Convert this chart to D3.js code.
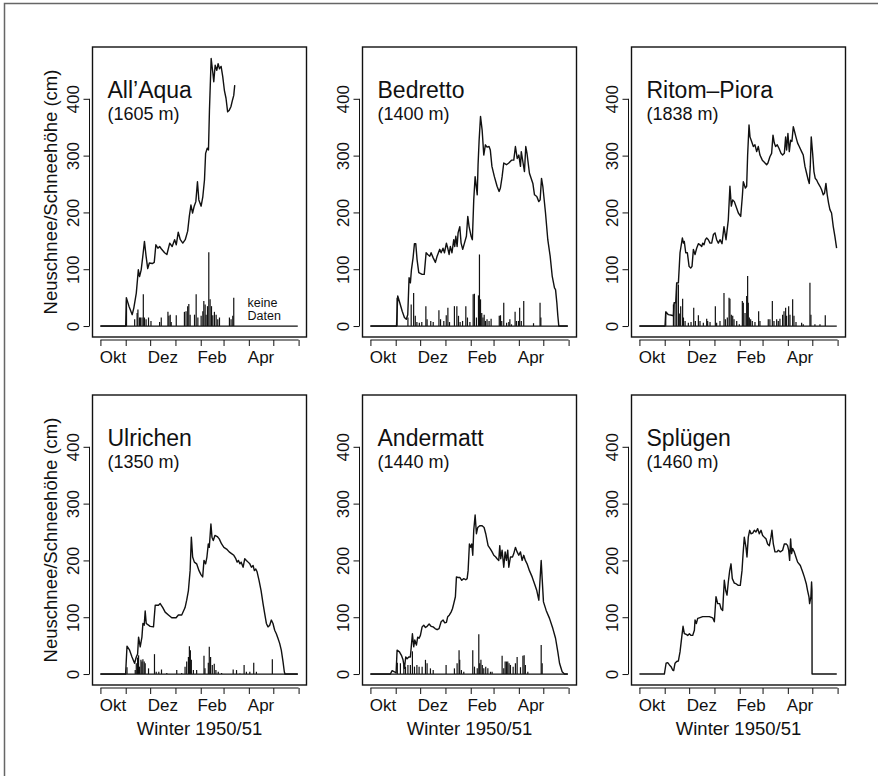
<!DOCTYPE html>
<html>
<head>
<meta charset="utf-8">
<script src="https://cdn.jsdelivr.net/npm/d3@7"></script>
<style>
  body { margin: 0; background: #fff; }
  text { font-family: "Liberation Sans", Arial, Helvetica, sans-serif; fill: #111; }
</style>
</head>
<body>
<div id="chart"></div>
<script>
// Winter 1950/51, day 0 = 1 Oct 1950. Pairs are [day, cm].
const stationNames = ["All\u2019Aqua", "Bedretto", "Ritom\u2013Piora", "Ulrichen", "Andermatt", "Spl\u00fcgen"];
const stationHeights = ["(1605 m)", "(1400 m)", "(1838 m)", "(1350 m)", "(1440 m)", "(1460 m)"];

const monthTicks = [0, 31, 61, 92, 123, 151, 182, 212, 243];
const monthLabels = ["Okt", "Dez", "Feb", "Apr"];
const monthLabelDays = [15.5, 76.5, 137, 197];
const yTicks = [0, 100, 200, 300, 400];

// Schneehöhe (snow depth)
const allAquaDepth = [[0,0],[31,0],[31.8,50],[35,35],[39,20],[41,32],[44,58],[46.5,99],[48,87],[50,99],[52,123],[54,149],[56,123],[58,101],[60,111],[63.6,110],[66,112],[68,143],[70.5,137],[72.6,140],[74.6,136],[78.7,129],[81.5,126],[85,146],[88,140],[91,152],[93,143],[95.4,165],[98,152],[101,146],[104,152],[107,167],[109,193],[111,213],[113,199],[115,211],[117,219],[119,254],[120.7,222],[123.5,211],[125.6,228],[127.6,257],[129,304],[131,313],[132.5,310],[133.7,380],[135.8,471],[138,444],[139,430],[140.7,459],[142.7,450],[144.3,462],[146,453],[148,457],[150,439],[152,415],[154,401],[156,377],[158,380],[160,386],[162,398],[163.5,406],[164.7,424]];
const bedrettoDepth = [[0,0],[32,0],[33.5,53],[36,41],[39,26],[41.7,15],[44,12],[45.8,20],[47.4,85],[49,76],[50.3,99],[52.3,120],[54,145],[55.6,145],[57.2,117],[59.3,94],[63.4,91],[66,91],[68.3,129],[70.3,126],[72.8,123],[74.4,129],[77,120],[79.7,112],[81.8,123],[85,135],[86.7,129],[89,137],[90.8,129],[93.2,146],[94.8,137],[96.5,126],[98,140],[100,129],[102.2,152],[103.4,140],[104.7,158],[106.3,140],[107.5,164],[109.6,175],[111.2,146],[113.2,135],[115.3,146],[117.7,158],[119.4,193],[121,175],[123.5,158],[125,152],[126.7,222],[128.4,263],[131,231],[132,284],[133.3,327],[135,369],[137,345],[139,301],[141,319],[143,315],[145.5,316],[147,310],[149,281],[152,263],[155.3,246],[157.8,237],[159.4,243],[161.5,263],[163.5,287],[166.8,284],[169.7,287],[173,292],[175.8,292],[177.8,316],[180,295],[182,301],[184,281],[185,307],[187.2,287],[188.9,272],[190.5,316],[192,304],[195,269],[199.2,251],[201.2,231],[204,228],[206.5,219],[208.1,222],[209.8,260],[211.4,246],[214.7,199],[217.5,152],[220.4,123],[222.9,88],[225.7,67],[227,64],[228.6,41],[229.8,18],[231,0],[242,0]];
const ritomDepth = [[0,0],[31.4,0],[32.3,25],[35.5,20],[39.6,19],[41.7,18],[42.5,41],[44.5,41],[45.7,76],[47.8,76],[49.8,129],[52.7,155],[54,146],[55,149],[56.8,129],[58.8,129],[60.9,105],[62.9,102],[64.5,105],[66.2,135],[68.2,126],[70.2,137],[72.3,145],[74.3,143],[76.4,140],[77.6,146],[79.2,143],[80.9,152],[82.5,155],[84.5,152],[86.6,146],[88.6,146],[90.7,161],[92.7,164],[94.7,152],[96.8,146],[98.8,152],[101.3,145],[103.7,175],[106.2,152],[109,187],[111,246],[112.7,211],[114.4,222],[116.4,219],[118.4,211],[121.3,199],[124.2,193],[126.2,228],[127.4,254],[129.9,243],[131.5,246],[132.7,301],[134.4,354],[135.6,333],[137.6,325],[139.7,316],[141.7,319],[143.8,307],[145.8,316],[147.8,301],[150.7,292],[154,287],[156,284],[157.6,287],[160,298],[162.1,304],[163.8,336],[165.4,322],[167,316],[169,319],[171.1,313],[173.6,304],[175.6,301],[177.7,304],[179.3,333],[180.5,310],[182.1,339],[183.8,307],[185.4,327],[187,325],[188.7,351],[190.3,342],[191.9,333],[194,322],[196,316],[198.9,307],[200.9,301],[203,281],[205,269],[207,257],[208.3,251],[209.5,281],[210.7,333],[212.4,304],[214,272],[215.6,260],[217.3,257],[219.3,251],[221.4,246],[223.4,240],[225.4,231],[227,234],[228.7,251],[230.3,231],[232,216],[233.6,205],[235.6,199],[237.7,175],[239.7,158],[241.8,137]];
const ulrichenDepth = [[0,0],[30.9,0],[32.6,49],[35.8,42],[38.7,30],[41.9,19],[44,30],[45.6,35],[46.8,65],[48.8,48],[50.9,65],[52.1,89],[53.7,86],[54.9,111],[56.2,89],[59,86],[61,84],[65.1,83],[67.2,121],[71.2,121],[73.3,124],[76.5,117],[79.4,109],[83.4,104],[87.5,99],[92.8,99],[95.6,104],[99.7,104],[103.8,117],[105.8,130],[107.9,147],[110,182],[111.5,241],[113.1,206],[115.2,197],[118,194],[120.9,182],[123.3,175],[125.4,171],[127,200],[129,194],[130.6,206],[132.3,229],[133.5,223],[135.5,264],[136.8,241],[138.4,235],[140.4,244],[143.3,242],[145.7,238],[148.6,229],[151.4,223],[154.7,220],[157.9,215],[160.8,212],[163.6,209],[166,203],[167.7,197],[169.3,200],[171,194],[172.6,197],[175,188],[177,203],[179,200],[181.1,197],[183.2,194],[185.2,188],[187.2,191],[188.8,182],[190.5,185],[192.1,180],[194.5,165],[197,147],[199.4,124],[201.5,106],[203.5,89],[205.5,83],[207.6,86],[209.6,95],[211.6,89],[213.7,77],[215.7,71],[217.7,63],[219.8,54],[221.8,42],[223.9,22],[225.5,4],[226.3,0],[242,0]];
const andermattDepth = [[0,0],[24.5,0],[26.6,6],[29.4,4],[31.5,2],[32.7,42],[35.6,39],[38,33],[40,25],[41.7,10],[43.3,30],[45,27],[47,30],[49,30],[51.5,71],[53.1,48],[54.4,60],[56.4,51],[58,65],[59.7,63],[61.3,68],[63.4,83],[65.4,86],[67.5,82],[69.5,84],[72,88],[74.4,84],[76.9,83],[79.3,80],[81.8,78],[84.2,80],[86.7,92],[89.1,95],[91.2,90],[93.2,91],[94.8,101],[96.9,104],[98.9,109],[100.6,115],[102.2,124],[104.2,136],[105.5,171],[107.1,170],[109.6,170],[112,165],[114.5,168],[116.9,166],[118.6,168],[119.8,182],[121.4,229],[123,223],[124.3,229],[125.5,209],[126.7,253],[128.4,280],[130,247],[131.6,258],[134.1,261],[137,261],[139.4,258],[141.4,247],[144.3,226],[147.2,220],[149.2,215],[151.3,209],[153.7,206],[155.3,203],[157.4,200],[158.6,226],[159.8,203],[161.5,218],[163.5,188],[165.2,215],[166.8,200],[168.4,218],[169.7,188],[171.7,206],[174.2,206],[175.8,212],[177.8,223],[179.9,215],[181.9,209],[184,215],[186,200],[188,209],[190,200],[192.1,194],[195,182],[198.3,171],[201.2,159],[204,147],[206.5,130],[209.4,200],[210.6,168],[212.2,127],[215.5,112],[219.6,98],[223.7,80],[227,63],[229.8,39],[231.9,19],[235.1,4],[238,0],[242,0]];
const spluegenDepth = [[0,0],[30.6,0],[32.7,19],[34.7,20],[36.8,16],[38.8,13],[40.8,7],[42,6],[43.7,19],[45.7,22],[47.8,23],[49.8,39],[51.9,65],[53.5,84],[55.1,71],[57.2,70],[59.2,68],[61.3,71],[63.3,68],[65.3,68],[67.4,77],[68.2,95],[69.8,89],[71.5,98],[73.5,99],[77.6,101],[81.7,101],[85.8,101],[89.8,99],[91.9,92],[93.9,136],[96,124],[98.4,124],[100.1,115],[102.1,112],[104.1,165],[105.8,147],[107.4,139],[109,162],[110.7,182],[112.3,194],[113.9,168],[116.4,160],[118.4,159],[121.3,156],[123.7,156],[125.8,182],[127,209],[128.6,241],[130.7,223],[131.9,206],[133.5,241],[135.2,253],[136.8,247],[138.9,248],[140.9,253],[142.9,250],[145,256],[147,247],[149.1,253],[151.1,244],[153.1,241],[155.2,238],[157.2,229],[159.3,226],[161.3,241],[162.5,253],[164.2,229],[166.2,215],[168.7,215],[170.3,218],[172.8,215],[175.6,218],[177.7,229],[180.1,229],[181.7,226],[183,218],[184.2,200],[185.4,238],[186.6,212],[187.9,221],[189.9,215],[191.9,206],[194,197],[197.3,191],[200.1,180],[202.2,171],[204.6,159],[206.2,147],[207.9,136],[208.7,124],[210.3,136],[211.1,162],[211.6,147],[211.7,0],[242,0]];

// Neuschnee (daily new snow)
const allAquaNew = [[32,45],[42,12],[45,23],[46,29],[48,15],[49,15],[51,15],[52.6,56],[54,15],[56,12],[59,15],[62,9],[72.6,7],[74.6,15],[82.8,25],[84,18],[85.6,20],[86.8,7],[93,19],[103,25],[105,26],[107,35],[108.4,39],[110,20],[115.4,20],[117.4,56],[119.5,15],[123.5,18],[125.6,26],[126.8,44],[128.4,38],[129.6,20],[131.3,35],[132.9,130],[134.5,47],[136.2,35],[137.8,19],[139.8,25],[141.9,20],[143.9,12],[146,15],[158.2,15],[160.2,12],[162.3,18],[163.5,50]];
const bedrettoNew = [[32.7,50],[46,15],[50,38],[53,58],[55,18],[57,7],[60,6],[63,7],[68,35],[69.5,12],[74,9],[77,7],[84,28],[86,12],[90,9],[93,19],[95,32],[97,7],[103,35],[106,35],[108,18],[110,7],[113,9],[117,35],[119,15],[122,7],[126,56],[127.5,57],[130,15],[132.5,54],[133.7,126],[135,47],[136.5,23],[138,15],[139.5,20],[141,9],[143,12],[145.5,9],[148,13],[158,18],[159.5,19],[161,9],[163.5,41],[167,6],[169.7,7],[171,12],[173,3],[177.4,25],[179,9],[181.5,9],[183,32],[185,9],[188,44],[200,5],[208,41],[209,15]];
const ritomNew = [[32.3,25],[41.7,38],[43.7,41],[45.7,76],[47.8,73],[49.4,22],[50.6,35],[53,48],[54,15],[56,9],[60,6],[63.3,7],[66.6,32],[68.6,9],[72.3,19],[74.3,9],[78.4,6],[82.5,13],[83.7,9],[86.6,7],[93.1,35],[94.7,6],[98.8,9],[103.7,58],[105.4,12],[107.8,15],[109.9,50],[111,48],[112.7,20],[114.4,18],[116,12],[119.3,9],[122.5,3],[126.2,44],[127.4,41],[129.5,23],[131.5,53],[132.7,88],[133.5,41],[134.8,15],[136.4,12],[138.4,9],[141.7,7],[146.2,26],[147.8,9],[158,12],[160,12],[163,44],[165,9],[168.3,12],[170.3,9],[172.3,13],[175.6,20],[177.3,26],[179.3,32],[180.5,18],[183,35],[184.6,20],[187.9,47],[189.5,18],[192,7],[198.9,6],[200.9,3],[209.1,76],[210.3,20],[215.2,3],[221.4,3],[227.9,19]];
const ulrichenNew = [[32.6,12],[42.7,7],[44,19],[45.6,29],[46.8,33],[48,13],[49.7,25],[50.9,22],[52.1,26],[53.7,22],[54.9,19],[59,10],[66.3,35],[68.4,4],[71.6,4],[74.9,8],[81.4,2],[93.6,7],[99.7,2],[103.8,13],[105.8,22],[107.9,30],[109.1,49],[110.3,42],[111.5,25],[114,7],[118,7],[127,32],[128.2,10],[132.3,20],[133.5,48],[135.1,30],[137.2,16],[139.6,18],[141.6,7],[144.5,4],[148.6,2],[162.8,8],[166.9,7],[171,1],[176.2,16],[179,4],[183.2,4],[188,20],[191.3,4],[210.8,26]];
const andermattNew = [[33,20],[36.8,19],[41,16],[43,13],[46,16],[49,16],[51.5,40],[54,13],[57,16],[59.7,13],[63.4,13],[67.5,25],[69.5,19],[73.6,10],[77,7],[92.8,16],[103,10],[106.3,19],[108.7,42],[109.5,25],[111.6,7],[114.5,4],[125.5,42],[127.6,13],[131,10],[132.9,70],[134,19],[135.5,25],[137.2,16],[139,10],[141.4,13],[144,10],[147.2,4],[149.2,4],[161.5,32],[163.5,10],[165.2,22],[166.8,22],[168.4,22],[170,19],[171.7,16],[175,13],[177.8,19],[179.9,30],[184,12],[187,32],[188.5,33],[190,16],[193,4],[209.4,51],[210.6,19]];

const depthSeries = [allAquaDepth, bedrettoDepth, ritomDepth, ulrichenDepth, andermattDepth, spluegenDepth];
const newSnowSeries = [allAquaNew, bedrettoNew, ritomNew, ulrichenNew, andermattNew, null];

// layout
const colLeft = [92.5, 362.5, 631.5];
const rowTop = [47, 395];
const boxW = 214, boxH = 290;
const ink = "#111";

var svg = d3.select("#chart")
  .append("svg")
  .attr("width", 878)
  .attr("height", 776);

svg.append("rect").attr("width", 878).attr("height", 776).attr("fill", "#fff");

// scan frame (top and left edges only)
svg.append("path")
  .attr("d", "M4.5,776 L4.5,3.5 L878,3.5")
  .attr("fill", "none")
  .attr("stroke", "#666")
  .attr("stroke-width", 1.5);

const x = d3.scaleLinear().domain([-9.7, 252.7]).range([0, boxW]);
const y = d3.scaleLinear().domain([-19.3, 491.2]).range([boxH, 0]);

stationNames.forEach(function(name, i) {
  var col = i % 3, row = Math.floor(i / 3);
  var g = svg.append("g")
    .attr("transform", "translate(" + colLeft[col] + "," + rowTop[row] + ")");

  // new snow: zero line and daily bars
  var fresh = newSnowSeries[i];
  if (fresh) {
    g.append("line")
      .attr("x1", x(0)).attr("x2", x(242))
      .attr("y1", y(0)).attr("y2", y(0))
      .attr("stroke", ink).attr("stroke-width", 1.3);
    g.selectAll(".bar")
      .data(fresh)
      .join("line")
      .attr("class", "bar")
      .attr("x1", d => x(d[0])).attr("x2", d => x(d[0]))
      .attr("y1", y(0)).attr("y2", d => y(d[1]))
      .attr("stroke", ink).attr("stroke-width", 1.2);
  }

  // snow depth curve
  g.append("path")
    .datum(depthSeries[i])
    .attr("d", d3.line().x(d => x(d[0])).y(d => y(d[1])))
    .attr("fill", "none")
    .attr("stroke", ink)
    .attr("stroke-width", 1.4)
    .attr("stroke-linejoin", "round");

  // plot box
  g.append("rect")
    .attr("width", boxW).attr("height", boxH)
    .attr("fill", "none")
    .attr("stroke", ink)
    .attr("stroke-width", 1.4);

  // x axis: month boundaries, labels mid-month
  var xAxis = g.append("g")
    .attr("transform", "translate(0," + (boxH + 3) + ")")
    .attr("color", ink)
    .call(d3.axisBottom(x).tickValues(monthTicks).tickSize(6).tickFormat(""));
  xAxis.select(".domain").remove();
  xAxis.append("line")
    .attr("x1", x(monthTicks[0])).attr("x2", x(monthTicks[monthTicks.length - 1]))
    .attr("stroke", ink);
  g.selectAll(".mlab")
    .data(monthLabels)
    .join("text")
    .attr("class", "mlab")
    .attr("x", (d, k) => x(monthLabelDays[k]))
    .attr("y", boxH + 26)
    .attr("text-anchor", "middle")
    .style("font-size", "17px")
    .text(d => d);

  // y axis with rotated labels
  var yAxis = g.append("g")
    .attr("transform", "translate(-3,0)")
    .attr("color", ink)
    .call(d3.axisLeft(y).tickValues(yTicks).tickSize(6));
  yAxis.select(".domain").remove();
  yAxis.append("line")
    .attr("y1", y(0)).attr("y2", y(400))
    .attr("stroke", ink);
  yAxis.selectAll(".tick text")
    .attr("transform", "rotate(-90)")
    .attr("x", 0)
    .attr("y", -11)
    .attr("dy", null)
    .attr("text-anchor", "middle")
    .style("font-size", "17px");

  // station name and elevation
  g.append("text")
    .attr("x", 15).attr("y", 51)
    .style("font-size", "23px")
    .text(name);
  g.append("text")
    .attr("x", 15).attr("y", 73)
    .style("font-size", "18px")
    .text(stationHeights[i]);

  if (col === 0) {
    g.append("text")
      .attr("transform", "translate(-36," + (boxH / 2) + ") rotate(-90)")
      .attr("text-anchor", "middle")
      .style("font-size", "18.5px")
      .text("Neuschnee/Schneeh\u00f6he (cm)");
  }
  if (row === 1) {
    g.append("text")
      .attr("x", boxW / 2).attr("y", boxH + 50)
      .attr("text-anchor", "middle")
      .style("font-size", "18.5px")
      .text("Winter 1950/51");
  }
  if (i === 0) {
    // "keine Daten" as two lines in one text element
    var nd = g.append("text")
      .attr("x", 155).attr("y", boxH - 30)
      .style("font-size", "12.5px");
    nd.append("tspan").attr("x", 155).text("keine");
    nd.append("tspan").attr("x", 155).attr("dy", 13).text("Daten");
  }
});
</script>
</body>
</html>
